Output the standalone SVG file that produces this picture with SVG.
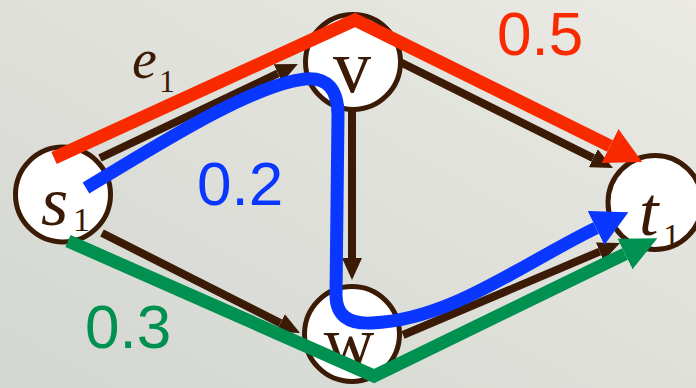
<svg xmlns="http://www.w3.org/2000/svg" width="696" height="388" viewBox="0 0 696 388">
<defs>
<linearGradient id="bg" x1="0" y1="1" x2="1" y2="0">
<stop offset="0" stop-color="#d3d6d1"/>
<stop offset="0.5" stop-color="#dfe0da"/>
<stop offset="1" stop-color="#ebeae4"/>
</linearGradient>
<marker id="hb" viewBox="0 -10 22 20" refX="0" refY="0" markerWidth="22" markerHeight="20" markerUnits="userSpaceOnUse" orient="auto"><path d="M0,-10 L22,0 L0,10 z" fill="#3b1a06"/></marker>
<marker id="hr" viewBox="0 -19 36 38" refX="0" refY="0" markerWidth="36" markerHeight="38" markerUnits="userSpaceOnUse" orient="auto"><path d="M0,-19 L36,0 L0,19 z" fill="#fa2a00"/></marker>
<marker id="hbl" viewBox="0 -19 36 38" refX="0" refY="0" markerWidth="36" markerHeight="38" markerUnits="userSpaceOnUse" orient="auto"><path d="M0,-19 L36,0 L0,19 z" fill="#0a37ff"/></marker>
<marker id="hg" viewBox="0 -17 36 34" refX="0" refY="0" markerWidth="36" markerHeight="34" markerUnits="userSpaceOnUse" orient="auto"><path d="M0,-17 L36,0 L0,17 z" fill="#009150"/></marker>
</defs>
<style>
.node circle{fill:#fff;stroke:#3b1a06;stroke-width:5}
.lbl{font-family:"Liberation Serif","Times New Roman",serif;fill:#3b1a06}
.it{font-style:italic}
.edge{fill:none;stroke:#3b1a06;stroke-width:8;marker-end:url(#hb)}
.flow{fill:none;stroke-width:13;stroke-linejoin:miter}
.num{font-family:"Liberation Sans",Arial,sans-serif;font-size:62px}
</style>
<rect width="696" height="388" fill="url(#bg)"/>
<g id="connectors">
<line class="edge" x1="100" y1="158" x2="278" y2="73.4"/>
<line class="edge" x1="400" y1="62" x2="593.3" y2="158.2"/>
<line class="edge" x1="102" y1="233" x2="280.4" y2="323.1"/>
<line class="edge" x1="352" y1="110" x2="352" y2="258"/>
<line class="edge" x1="403" y1="335" x2="599.7" y2="251.6"/>
</g>
<g id="node-s1" class="node"><circle cx="63" cy="194.5" r="47.5"/><text class="lbl it" x="41" y="225" font-size="70">s</text><text class="lbl" x="73" y="231" font-size="34">1</text></g>
<g id="node-v" class="node"><circle cx="353" cy="62" r="47.5"/><text class="lbl" x="352" y="92" font-size="76" text-anchor="middle">v</text></g>
<g id="node-w" class="node"><circle cx="352" cy="334" r="47.5"/><text class="lbl" x="349" y="365" font-size="70" text-anchor="middle">w</text></g>
<g id="node-t1" class="node"><circle cx="655" cy="202.5" r="47"/><text class="lbl it" x="639" y="235" font-size="70">t</text><text class="lbl" x="663" y="247" font-size="34">1</text></g>
<g id="flows">
<path class="flow" stroke="#fa2a00" d="M54,158 L355,20 L610,146" marker-end="url(#hr)"/>
<path class="flow" stroke="#0a37ff" d="M86,188 C150,150 250,85 305,79 Q338,76 338,115 L336,295 Q336,325 372,323 C450,320 520,265 596,228" marker-end="url(#hbl)"/>
<path class="flow" stroke="#009150" d="M68,241 L374,376 L625,254" marker-end="url(#hg)"/>
</g>
<g id="labels">
<text class="lbl it" x="132" y="78" font-size="56">e</text><text class="lbl" x="159" y="92" font-size="32">1</text>
<text class="num" x="497" y="55" fill="#fa2a00">0.5</text>
<text class="num" x="197" y="205" fill="#0a37ff">0.2</text>
<text class="num" x="85" y="348" fill="#009150">0.3</text>
</g>
</svg>
